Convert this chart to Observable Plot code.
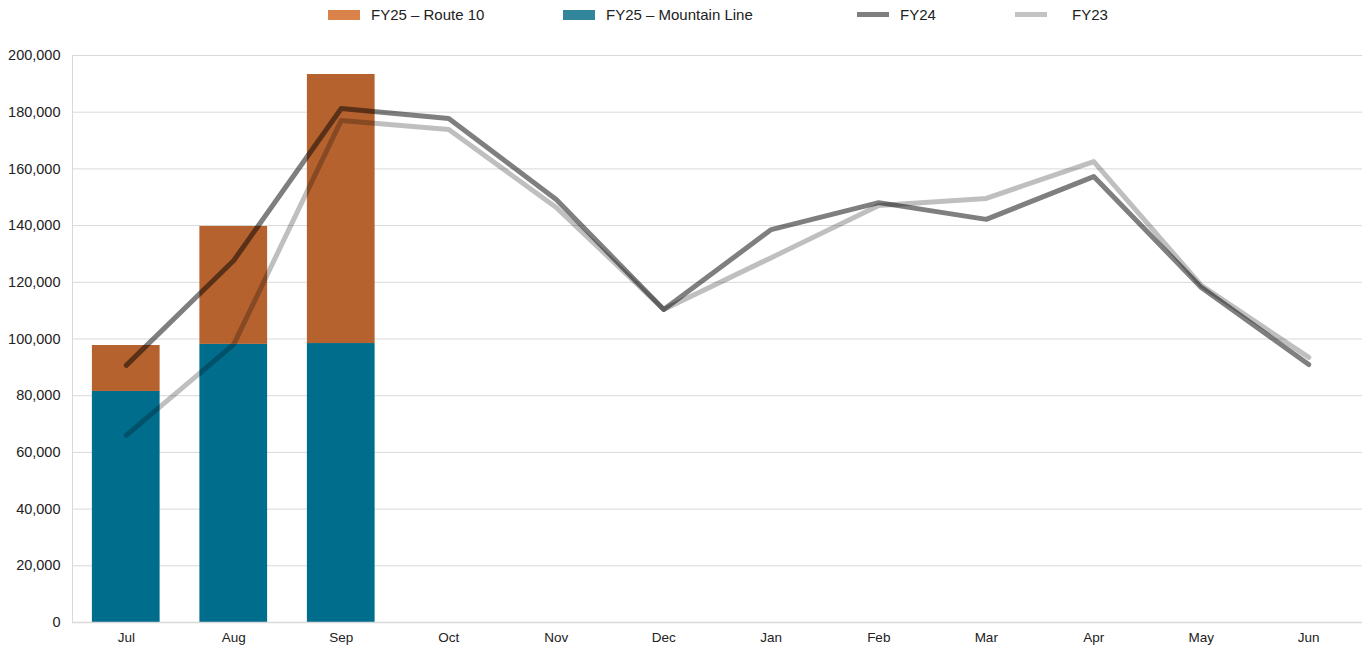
<!DOCTYPE html>
<html>
<head>
<meta charset="utf-8">
<script src="https://cdn.jsdelivr.net/npm/d3@7"></script>
<script src="https://cdn.jsdelivr.net/npm/@observablehq/plot@0.6"></script>
<style>
  html, body { margin: 0; padding: 0; background: #fff; }
  body { width: 1364px; height: 650px; overflow: hidden; font-family: "Liberation Sans", Arial, sans-serif; }
  #legend { position: relative; height: 35px; width: 1364px; font-family: "Liberation Sans Narrow", "Liberation Sans", Arial, sans-serif; font-size: 15px; color: #222; }
  .item { position: absolute; top: 6px; display: flex; align-items: center; }
  .sw { display: inline-block; width: 32px; margin-right: 11px; }
</style>
</head>
<body>
<div id="legend"></div>
<div id="chart"></div>
<script>
const months = ["Jul","Aug","Sep","Oct","Nov","Dec","Jan","Feb","Mar","Apr","May","Jun"];
const fy25MountainLine = [81500, 98100, 98400];
const fy25Route10 = [16200, 41600, 94900];
const fy24 = [90700, 127700, 181300, 177800, 149200, 110400, 138600, 148100, 142200, 157300, 118200, 91000];
const fy23 = [66000, 98100, 177100, 173900, 146400, 110400, 128700, 147100, 149600, 162600, 118900, 93500];
const yTicks = [0, 20000, 40000, 60000, 80000, 100000, 120000, 140000, 160000, 180000, 200000];

const barRows = [];
fy25MountainLine.forEach((v, i) => barRows.push({month: months[i], series: "FY25 – Mountain Line", value: v, order: 0}));
fy25Route10.forEach((v, i) => barRows.push({month: months[i], series: "FY25 – Route 10", value: v, order: 1}));
const fy24Rows = fy24.map((v, i) => ({month: months[i], value: v}));
const fy23Rows = fy23.map((v, i) => ({month: months[i], value: v}));

const legendItems = [
  {label: "FY25 – Route 10", left: 328, type: "box", color: "#d9834a"},
  {label: "FY25 – Mountain Line", left: 563, type: "box", color: "#31869b"},
  {label: "FY24", left: 857, type: "line", color: "#7f7f7f"},
  {label: "FY23", left: 1015, type: "line", color: "#c3c3c3"}
];
const lg = document.getElementById("legend");
legendItems.forEach(it => {
  const d = document.createElement("div");
  d.className = "item";
  d.style.left = it.left + "px";
  const s = document.createElement("span");
  s.className = "sw";
  s.style.height = it.type === "box" ? "10px" : "5px";
  s.style.background = it.color;
  if (it.type === "line") s.style.marginRight = (it.label === "FY23" ? "25px" : "11px");
  d.appendChild(s);
  const t = document.createElement("span");
  t.textContent = it.label;
  d.appendChild(t);
  lg.appendChild(d);
});

const chart = Plot.plot({
  width: 1364,
  height: 615,
  marginTop: 20,
  marginBottom: 28,
  marginLeft: 72,
  marginRight: 2,
  style: {fontFamily: "Liberation Sans, Arial, sans-serif", fontSize: "14px", color: "#222", background: "#fff"},
  x: {type: "band", domain: months, paddingInner: 0.37, paddingOuter: 0.185, round: false, label: null, tickSize: 0},
  y: {domain: [0, 200000], ticks: yTicks, tickFormat: d3.format(","), label: null, tickSize: 0},
  color: {domain: ["FY25 – Mountain Line", "FY25 – Route 10"], range: ["#006d8c", "#b5622f"]},
  marks: [
    Plot.gridY(yTicks.filter(d => d > 0), {stroke: "#d9d9d9", strokeOpacity: 1, strokeWidth: 1}),
    Plot.ruleX([0], {x: () => months[0], dx: -53.75, y1: 0, y2: 200000, stroke: "#d9d9d9"}),
    Plot.barY(barRows, Plot.stackY({x: "month", y: "value", fill: "series", order: "order"})),
    Plot.ruleY([0], {stroke: "#d9d9d9", strokeWidth: 1.5}),
    Plot.line(fy23Rows, {x: "month", y: "value", stroke: "#000", strokeOpacity: 0.25, strokeWidth: 5, strokeLinecap: "round", strokeLinejoin: "round"}),
    Plot.line(fy24Rows, {x: "month", y: "value", stroke: "#000", strokeOpacity: 0.5, strokeWidth: 5, strokeLinecap: "round", strokeLinejoin: "round"}),
    Plot.axisY({ticks: yTicks, tickFormat: d3.format(","), tickSize: 0, tickPadding: 12, fontSize: 14.5}),
    Plot.axisX({tickSize: 0, tickPadding: 10, fontSize: 13.5})
  ]
});
document.getElementById("chart").appendChild(chart);
</script>
</body>
</html>
